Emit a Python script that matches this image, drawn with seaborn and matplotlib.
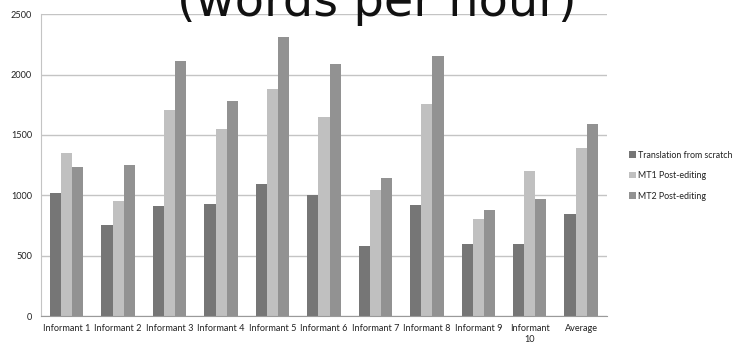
import numpy as np
import pandas as pd
import seaborn as sns
import matplotlib.pyplot as plt

# data (words per hour)
informants = ["Informant 1", "Informant 2", "Informant 3", "Informant 4", "Informant 5",
              "Informant 6", "Informant 7", "Informant 8", "Informant 9", "Informant\n10", "Average"]
scratch = [1020, 750, 910, 930, 1090, 1000, 580, 920, 600, 600, 845]
mt1 = [1350, 950, 1710, 1550, 1880, 1650, 1045, 1760, 800, 1200, 1390]
mt2 = [1230, 1250, 2110, 1780, 2310, 2090, 1140, 2150, 880, 970, 1590]
series = ["Translation from scratch", "MT1 Post-editing", "MT2 Post-editing"]
colors = ["#767676", "#c0c0c0", "#929292"]

df = pd.DataFrame({
    "informant": informants * 3,
    "series": [series[0]] * 11 + [series[1]] * 11 + [series[2]] * 11,
    "wph": scratch + mt1 + mt2,
})

sns.set_style("white")
plt.rcParams["font.family"] = ["Lato", "DejaVu Sans"]

fig = plt.figure(figsize=(7.33, 3.45), dpi=100)
ax = fig.add_axes([0.056, 0.084, 0.772, 0.875])

sns.barplot(data=df, x="informant", y="wph", hue="series", order=informants,
            hue_order=series, palette=dict(zip(series, colors)), saturation=1,
            width=0.65, errorbar=None, linewidth=0, ax=ax, legend=True)

ax.set_ylim(0, 2500)
ax.set_xlim(-0.5, len(informants) - 0.5)
ax.set_yticks([0, 500, 1000, 1500, 2000, 2500])
ax.yaxis.grid(True, color="#c4c4c4", linewidth=1)
ax.set_axisbelow(True)
ax.set_xlabel("")
ax.set_ylabel("")

for s in ["top", "right"]:
    ax.spines[s].set_visible(False)
ax.spines["left"].set_color("#c4c4c4")
ax.spines["bottom"].set_color("#9a9a9a")

ax.tick_params(axis="x", which="major", length=0, labelsize=6.6, pad=6, labelcolor="#222222")
ax.set_xticks(np.arange(-0.5, len(informants), 1), minor=True)
ax.tick_params(axis="x", which="minor", length=3, color="#9a9a9a", direction="out")
ax.tick_params(axis="y", length=3, color="#c4c4c4", labelsize=6.6, direction="out",
               labelcolor="#222222")
ax.set_yticklabels(["0", "500", "1000", "1500", "2000", "2500"])

leg = ax.legend(loc="center left", bbox_to_anchor=(1.025, 0.465), frameon=False,
                fontsize=6.4, handlelength=0.8, handleheight=0.8, handletextpad=0.25,
                labelspacing=1.3)
for t in leg.get_texts():
    t.set_color("#222222")

fig.text(0.514, 0.955, "(words per hour)", ha="center", va="baseline", fontsize=34.5,
         family="DejaVu Sans", color="#111111")

fig.savefig("out.png", dpi=100)
